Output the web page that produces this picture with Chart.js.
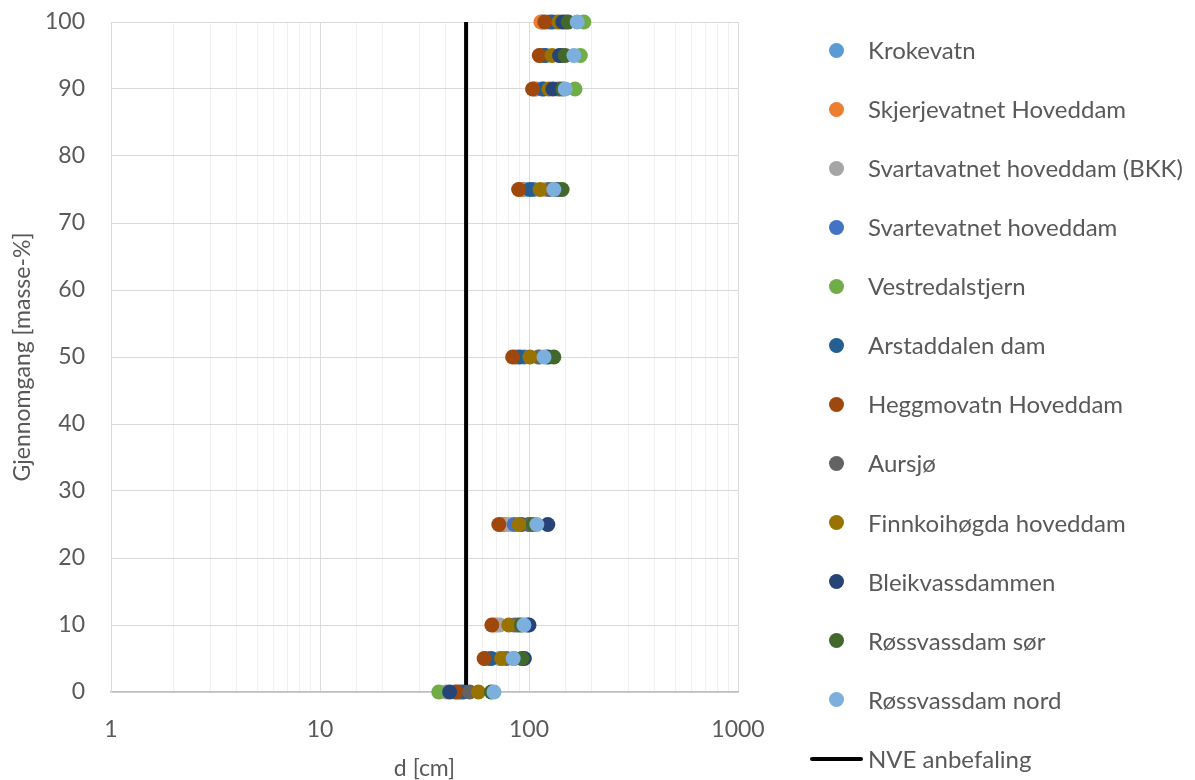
<!DOCTYPE html>
<html>
<head>
<meta charset="utf-8">
<script src="https://cdn.jsdelivr.net/npm/chart.js@4.4.1/dist/chart.umd.min.js"></script>
<style>
    html, body { margin: 0; padding: 0; background: #fff; }
    #wrap { position: relative; width: 1195px; height: 780px; }
    #legend { position: absolute; left: 0; top: 0; font-family: Lato, sans-serif; font-size: 24px; color: #595959; }
    .item { position: absolute; left: 868px; white-space: nowrap; line-height: 28px; height: 28px; }
    .dot { position: absolute; left: -39px; top: 6.5px; width: 15px; height: 15px; border-radius: 50%; }
    .bar { position: absolute; left: -58px; top: 12px; width: 53px; height: 4px; background: #000; border-radius: 2px; }
</style>
</head>
<body>
<div id="wrap">
    <canvas id="sieve" width="1195" height="780"></canvas>
    <div id="legend"></div>
</div>
<script>
"use strict";

/* passing levels (masse-%) */
var levels = [0, 5, 10, 25, 50, 75, 90, 95, 100];

/* d [cm] per dam at each level */
var krokevatn      = [44, 64, 70, 76, 88, 95, 108, 115, 116];
var skjerjevatnet  = [46, 62, 68, 74, 86, 92, 106, 113, 114];
var svartavatnet   = [40, 72, 72.5, 80, 110, 120, 136, 140, 135];
var svartevatnet   = [47, 93, 85, 85, 95, 105, 115, 118, 125];
var vestredal      = [37, 85, 90, 100, 125, 140, 166, 176, 183];
var arstaddalen    = [48.5, 66, 98, 92, 90.5, 101, 118, 120, 129];
var heggmovatn     = [45, 61, 66.4, 71.7, 83.5, 89.2, 104, 112, 119];
var aursjo         = [52, 78, 88, 100, 112, 125, 140, 145, 150];
var finnkoihogda   = [57.3, 74, 80, 89.5, 101, 113, 124.5, 129, 139];
var bleikvass      = [41.7, 95, 100, 123, 122, 135, 130, 140, 145];
var rossvassSor    = [66, 92.5, 92, 105, 131.5, 144, 145, 149, 154];
var rossvassNord   = [68, 84, 94.6, 109, 118, 131.5, 149, 164, 170];

/* NVE recommendation */
var nveD = 50;
var nveLevels = [0, 100];

var names = ['Krokevatn', 'Skjerjevatnet Hoveddam', 'Svartavatnet hoveddam (BKK)', 'Svartevatnet hoveddam',
    'Vestredalstjern', 'Arstaddalen dam', 'Heggmovatn Hoveddam', 'Aursjø', 'Finnkoihøgda hoveddam',
    'Bleikvassdammen', 'Røssvassdam sør', 'Røssvassdam nord'];
var series = [krokevatn, skjerjevatnet, svartavatnet, svartevatnet, vestredal, arstaddalen,
    heggmovatn, aursjo, finnkoihogda, bleikvass, rossvassSor, rossvassNord];
var colors = ['#5B9BD5', '#ED7D31', '#A5A5A5', '#4472C4', '#70AD47', '#255E91',
    '#9E480E', '#636363', '#997300', '#264478', '#43682B', '#7CAFDD'];

var txt = '#595959';
var font = { family: 'Lato', size: 23 };

document.addEventListener("DOMContentLoaded", function () {
    var datasets = series.map(function (vals, i) {
        return {
            label: names[i],
            data: vals.map(function (d, k) { return { x: d, y: levels[k] }; }),
            backgroundColor: colors[i],
            borderColor: colors[i],
            borderWidth: 0,
            pointRadius: 7.5,
            pointHoverRadius: 7.5,
            clip: false,
            order: series.length - i   // later series on top, like excel
        };
    });
    datasets.push({
        label: 'NVE anbefaling',
        data: nveLevels.map(function (y) { return { x: nveD, y: y }; }),
        showLine: true,
        borderColor: '#000',
        borderWidth: 4,
        pointRadius: 0,
        order: series.length + 1
    });

    var isMajor = function (v) {
        var l = Math.log10(v);
        return Math.abs(l - Math.round(l)) < 1e-9;
    };

    new Chart(document.getElementById('sieve').getContext('2d'), {
        type: 'scatter',
        data: { datasets: datasets },
        options: {
            responsive: false,
            animation: false,
            layout: { autoPadding: false, padding: { top: 22, right: 457, bottom: 0, left: 0 } },
            plugins: {
                legend: { display: false },
                tooltip: { enabled: false }
            },
            scales: {
                x: {
                    type: 'logarithmic',
                    min: 1,
                    max: 1000,
                    afterFit: function (s) { s.height = 88; },
                    border: { color: '#bfbfbf', width: 1.5 },
                    grid: {
                        drawTicks: false,
                        color: function (ctx) {
                            return ctx.tick && isMajor(ctx.tick.value) ? '#dcdcdc' : '#f0f0f0';
                        }
                    },
                    ticks: {
                        autoSkip: false,
                        maxRotation: 0,
                        padding: 24,
                        color: txt,
                        font: font,
                        callback: function (v) { return isMajor(v) ? String(v) : ''; }
                    },
                    title: {
                        display: true, text: 'd [cm]', color: txt,
                        font: { family: 'Lato', size: 23, lineHeight: 1.0 },
                        padding: { top: 0, bottom: 0 }
                    }
                },
                y: {
                    min: 0,
                    max: 100,
                    afterFit: function (s) { s.width = 111; s.paddingTop = 0; s.paddingBottom = 0; },
                    border: { color: '#d9d9d9' },
                    grid: { drawTicks: false, color: '#d9d9d9' },
                    ticks: { stepSize: 10, padding: 26, color: txt, font: font },
                    title: { display: true, text: 'Gjennomgang [masse-%]', color: txt, font: font, padding: { top: 9, bottom: 0 } }
                }
            }
        }
    });

    /* legend on the right */
    var legend = document.getElementById('legend');
    var rows = names.concat(['NVE anbefaling']);
    rows.forEach(function (n, i) {
        var el = document.createElement('div');
        el.className = 'item';
        el.style.top = (50 + i * 59.07 - 14) + 'px';
        var mark = document.createElement('span');
        if (i < names.length) {
            mark.className = 'dot';
            mark.style.background = colors[i];
        } else {
            mark.className = 'bar';
        }
        el.appendChild(mark);
        el.appendChild(document.createTextNode(n));
        legend.appendChild(el);
    });
});
</script>
</body>
</html>
